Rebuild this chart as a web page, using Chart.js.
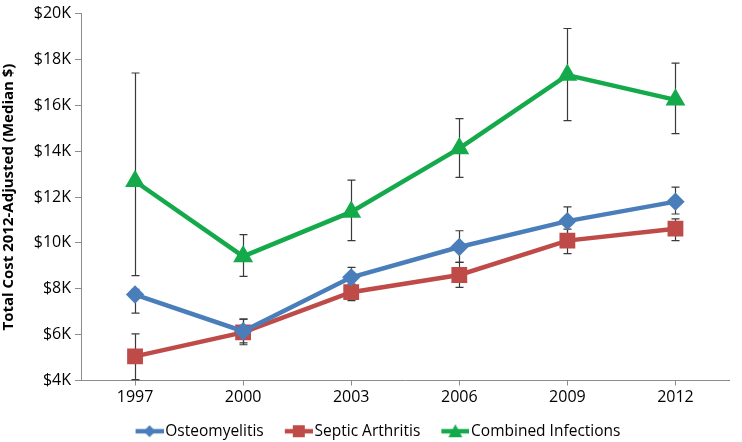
<!DOCTYPE html>
<html>
<head>
<meta charset="utf-8">
<script src="https://cdn.jsdelivr.net/npm/chart.js@4.4.0/dist/chart.umd.min.js"></script>
<style>body{margin:0;background:#fff}</style>
</head>
<body>
<canvas id="myChart" width="742" height="442"></canvas>
<script type="text/javascript">
  var years = ['1997', '2000', '2003', '2006', '2009', '2012'];

  // median cost, thousands of dollars
  var osteo = [7.75, 6.15, 8.5, 9.82, 10.95, 11.8];
  var osteoLow = [6.94, 5.64, 8.1, 9.15, 10.4, 11.26];
  var osteoHigh = [7.98, 6.68, 8.93, 10.53, 11.57, 12.43];

  var septic = [5.05, 6.1, 7.85, 8.6, 10.1, 10.62];
  var septicLow = [4.04, 5.56, 7.48, 8.06, 9.53, 10.1];
  var septicHigh = [6.03, 6.68, 8.2, 9.15, 10.6, 11.05];

  var combined = [12.69, 9.41, 11.35, 14.12, 17.32, 16.24];
  var combinedLow = [8.57, 8.54, 10.1, 12.86, 15.33, 14.77];
  var combinedHigh = [17.41, 10.36, 12.74, 15.42, 19.35, 17.84];

  var yTicks = [4, 6, 8, 10, 12, 14, 16, 18, 20];

  var errors = [[osteoLow, osteoHigh], [septicLow, septicHigh], [combinedLow, combinedHigh]];

  // legend swatch: blank lead-in, then line with the marker in the middle
  function legendIcon(color, shape) {
    var c = document.createElement('canvas');
    c.width = 50; c.height = 16;
    var g = c.getContext('2d');
    g.strokeStyle = color; g.fillStyle = color; g.lineWidth = 4.5;
    g.beginPath(); g.moveTo(22, 8); g.lineTo(50, 8); g.stroke();
    g.beginPath();
    if (shape == 'diamond') { g.moveTo(36, 2); g.lineTo(42, 8); g.lineTo(36, 14); g.lineTo(30, 8); }
    else if (shape == 'square') { g.rect(30, 2, 12, 12); }
    else { g.moveTo(36, 1); g.lineTo(43, 14); g.lineTo(29, 14); }
    g.closePath(); g.fill();
    return c;
  }

  var errorBars = {
    id: 'errorBars',
    beforeDatasetsDraw: function(chart) {
      var ctx = chart.ctx, xs = chart.scales.x, ys = chart.scales.y;
      ctx.save();
      ctx.strokeStyle = '#3a3a3a';
      ctx.lineWidth = 1.2;
      errors.forEach(function(e) {
        e[0].forEach(function(lo, i) {
          var px = Math.round(xs.getPixelForValue(i)) + 0.5;
          var y1 = ys.getPixelForValue(lo), y2 = ys.getPixelForValue(e[1][i]);
          ctx.beginPath();
          ctx.moveTo(px, y1); ctx.lineTo(px, y2);
          ctx.moveTo(px - 4, y1); ctx.lineTo(px + 4, y1);
          ctx.moveTo(px - 4, y2); ctx.lineTo(px + 4, y2);
          ctx.stroke();
        });
      });
      ctx.restore();
    }
  };

  var blue = '#4A7EBB', red = '#BE4B48', green = '#14AA4B';
  var font = "'Open Sans', 'Noto Sans', sans-serif";

  var ctx = document.getElementById('myChart').getContext('2d');
  var chart = new Chart(ctx, {
      type: 'line',
      data: {
          labels: years,
          datasets: [{
              label: 'Osteomyelitis',
              data: osteo,
              borderColor: blue, backgroundColor: blue,
              borderWidth: 4.5, pointStyle: 'rectRot', pointRadius: 6,
              icon: legendIcon(blue, 'diamond')
          }, {
              label: 'Septic Arthritis',
              data: septic,
              borderColor: red, backgroundColor: red,
              borderWidth: 4.5, pointStyle: 'rect', pointRadius: 8,
              icon: legendIcon(red, 'square')
          }, {
              label: 'Combined Infections',
              data: combined,
              borderColor: green, backgroundColor: green,
              borderWidth: 4.5, pointStyle: 'triangle', pointRadius: 7,
              icon: legendIcon(green, 'triangle')
          }]
      },
      options: {
          responsive: false,
          animation: false,
          layout: { padding: { top: 0, right: 2, left: 0, bottom: -7 } },
          plugins: {
              tooltip: { enabled: false },
              legend: {
                  position: 'bottom',
                  labels: {
                      font: { family: font, size: 15.5 },
                      color: '#000',
                      usePointStyle: true,
                      pointStyleWidth: 38,
                      padding: 5,
                      generateLabels: function(chart) {
                          return chart.data.datasets.map(function(ds, i) {
                              return { text: ds.label, pointStyle: ds.icon, fillStyle: ds.borderColor,
                                       strokeStyle: ds.borderColor, lineWidth: 0, datasetIndex: i, fontColor: '#000' };
                          });
                      }
                  }
              }
          },
          scales: {
              x: {
                  offset: true,
                  border: { color: '#8c8c8c', width: 1 },
                  grid: { offset: false, drawOnChartArea: false, tickLength: 5, color: '#8c8c8c' },
                  ticks: { font: { family: font, size: 16 }, color: '#000', padding: 2 },
                  afterFit: function(s) { s.height = 38; }
              },
              y: {
                  min: 4, max: 20,
                  afterBuildTicks: function(s) { s.ticks = yTicks.map(function(v) { return { value: v }; }); },
                  border: { color: '#8c8c8c', width: 1 },
                  grid: { drawOnChartArea: false, tickLength: 6, color: '#8c8c8c' },
                  ticks: { font: { family: font, size: 16 }, color: '#000', padding: 4,
                           callback: function(v) { return '$' + v + 'K'; } },
                  title: { display: true, text: 'Total Cost 2012-Adjusted (Median $)',
                           font: { family: font, size: 15, weight: 'bold' }, color: '#000', padding: 0 },
                  afterFit: function(s) { s.width = 81; }
              }
          }
      },
      plugins: [errorBars]
  });
</script>
</body>
</html>
